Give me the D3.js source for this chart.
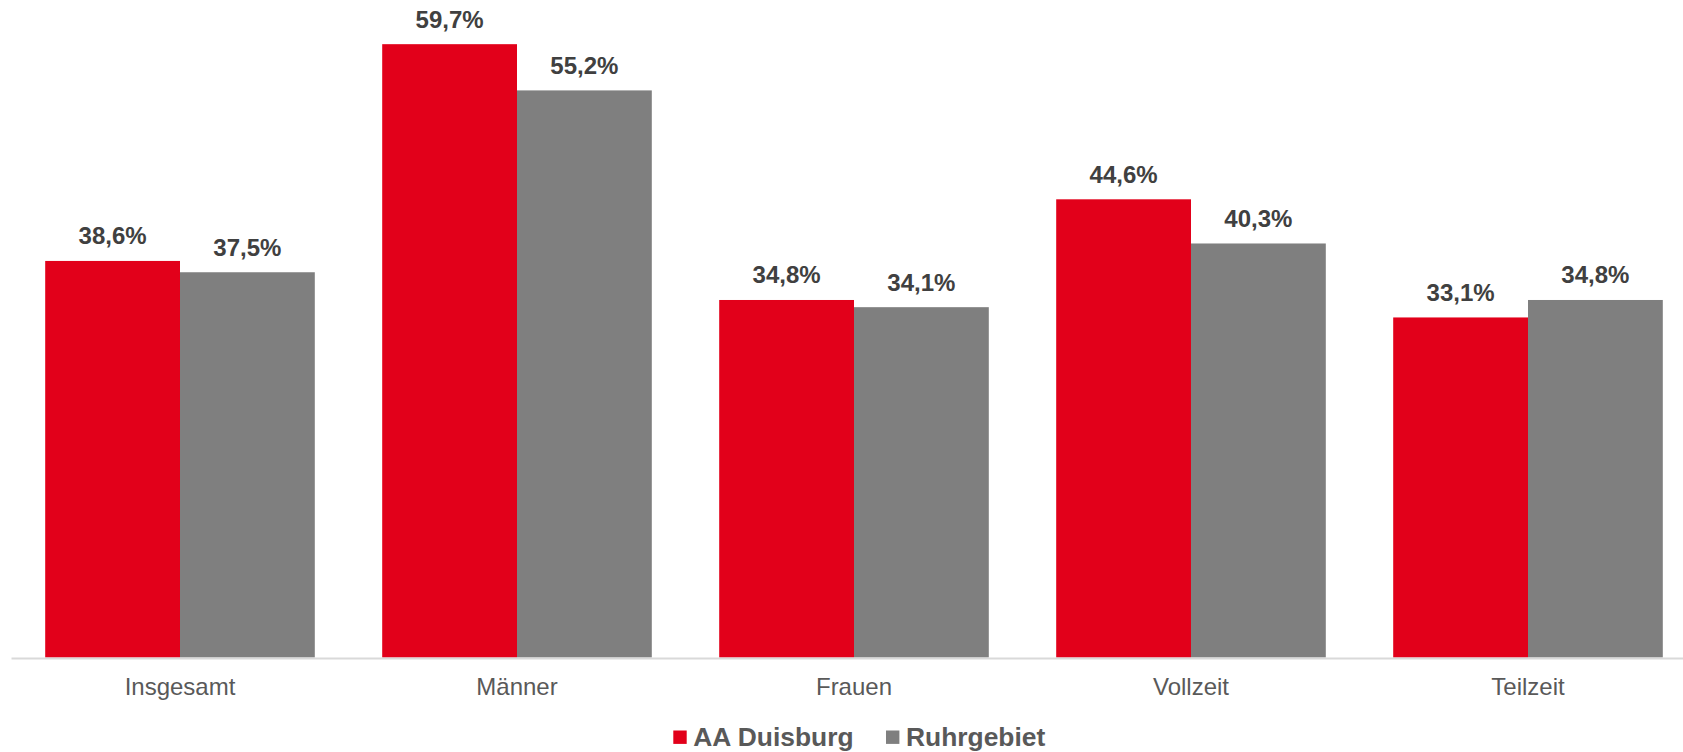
<!DOCTYPE html>
<html>
<head>
<meta charset="utf-8">
<script src="https://cdn.jsdelivr.net/npm/d3@7"></script>
<style>
  body { margin: 0; background: #fff; }
  svg { display: block; font-family: Arial, "Liberation Sans", sans-serif; }
</style>
</head>
<body>
<script>
// categories and series
var categories = ["Insgesamt", "Männer", "Frauen", "Vollzeit", "Teilzeit"];
var seriesNames = ["AA Duisburg", "Ruhrgebiet"];
var duisburg = [38.6, 59.7, 34.8, 44.6, 33.1];
var ruhrgebiet = [37.5, 55.2, 34.1, 40.3, 34.8];
var colors = ["#e2001a", "#7f7f7f"];

var width = 1683,
    height = 752;

var rows = categories.map(function(c, i) {
  return { cat: c, values: [duisburg[i], ruhrgebiet[i]] };
});

var svg = d3.select("body").append("svg")
    .attr("width", width)
    .attr("height", height);

var baseline = 657.5;

var x = d3.scaleBand()
    .domain(categories)
    .range([11.5, 1696.5])
    .paddingInner(0.2)
    .paddingOuter(0.1);

var x1 = d3.scaleBand()
    .domain([0, 1])
    .range([0, x.bandwidth()]);

var y = d3.scaleLinear()
    .domain([0, 64])
    .range([baseline, 0]);

// bars
var groups = svg.selectAll("g.cat")
    .data(rows)
  .enter().append("g")
    .attr("class", "cat")
    .attr("transform", function(d) { return "translate(" + x(d.cat) + ",0)"; });

groups.selectAll("rect")
    .data(function(d) { return d.values; })
  .enter().append("rect")
    .attr("x", function(d, i) { return x1(i); })
    .attr("y", function(d) { return y(d); })
    .attr("width", x1.bandwidth())
    .attr("height", function(d) { return baseline - y(d); })
    .attr("fill", function(d, i) { return colors[i]; });

// value labels
groups.selectAll("text.val")
    .data(function(d) { return d.values; })
  .enter().append("text")
    .attr("class", "val")
    .attr("x", function(d, i) { return x1(i) + x1.bandwidth() / 2; })
    .attr("y", function(d) { return y(d) - 16.5; })
    .attr("text-anchor", "middle")
    .attr("font-size", "24px")
    .attr("font-weight", "bold")
    .attr("fill", "#404040")
    .text(function(d) { return d.toFixed(1).replace(".", ",") + "%"; });

// x axis line
svg.append("line")
    .attr("x1", x.range()[0])
    .attr("x2", x.range()[1])
    .attr("y1", baseline + 1)
    .attr("y2", baseline + 1)
    .attr("stroke", "#d9d9d9")
    .attr("stroke-width", 2);

// category labels
svg.selectAll("text.cat")
    .data(categories)
  .enter().append("text")
    .attr("class", "cat")
    .attr("x", function(d) { return x(d) + x.bandwidth() / 2; })
    .attr("y", 695)
    .attr("text-anchor", "middle")
    .attr("font-size", "24px")
    .attr("fill", "#595959")
    .text(function(d) { return d; });

// legend (nudged up a little so descenders stay inside the frame)
var legendX = [673.3, 886];
var legend = svg.selectAll("g.legend")
    .data(seriesNames)
  .enter().append("g")
    .attr("class", "legend")
    .attr("transform", function(d, i) { return "translate(" + legendX[i] + ",0)"; });

legend.append("rect")
    .attr("y", 730.5)
    .attr("width", 13.4)
    .attr("height", 13.4)
    .attr("fill", function(d, i) { return colors[i]; });

legend.append("text")
    .attr("x", 20)
    .attr("y", 745.5)
    .attr("font-size", "26.4px")
    .attr("font-weight", "bold")
    .attr("fill", "#595959")
    .text(function(d) { return d; });
</script>
</body>
</html>
